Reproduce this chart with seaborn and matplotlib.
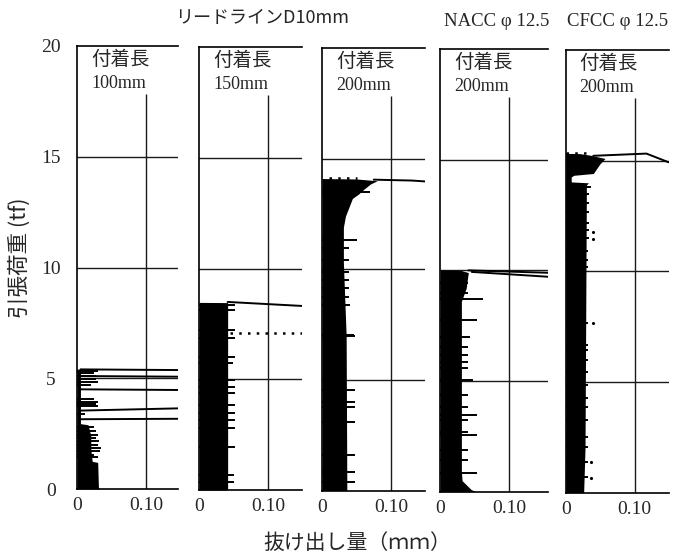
import numpy as np
import pandas as pd
import matplotlib
matplotlib.use("Agg")
import matplotlib.pyplot as plt
import seaborn as sns

sns.set_theme(style="white")
plt.rcParams["font.family"] = ["Noto Sans CJK JP", "DejaVu Sans"]

W, H = 677, 557

# ---------------- data ----------------
y_ticks = [0, 5, 10, 15, 20]
y_tick_labels = ["0", "5", "10", "15", "20"]
x_ticks = [0, 0.10]
x_tick_labels = ["0", "0.10"]
grid_loads = [5, 10, 15]

panel_labels = ["付着長\n100mm", "付着長\n150mm", "付着長\n200mm", "付着長\n200mm", "付着長\n200mm"]
group_titles = ["リードラインD10mm", "NACC φ 12.5", "CFCC φ 12.5"]

# Panel 1 : D10, bond length 100 mm
band1_load = [0, 0.1, 1.2, 1.25, 1.8, 2.4, 2.9, 2.95, 5.4, 5.42]
band1_slip = [0.032, 0.031, 0.030, 0.022, 0.020, 0.020, 0.016, 0.005, 0.005, 0.0]
spike1_load = [5.32, 5.22, 5.10, 4.95, 4.82, 4.70, 4.05, 3.95, 3.85, 3.75, 3.40,
               2.80, 2.60, 2.45, 2.30, 2.15, 2.00, 1.85, 1.70, 1.55, 1.45]
spike1_slip = [0.030, 0.025, 0.027, 0.028, 0.030, 0.020, 0.025, 0.030, 0.028, 0.030, 0.012,
               0.025, 0.027, 0.030, 0.028, 0.032, 0.030, 0.035, 0.033, 0.025, 0.030]
line1_seg = [0, 0, 1, 1, 2, 2, 3, 3, 4, 4]
line1_slip = [0.005, 0.146, 0.005, 0.146, 0.005, 0.146, 0.005, 0.146, 0.005, 0.146]
line1_load = [5.40, 5.37, 5.10, 5.07, 4.50, 4.47, 3.54, 3.64, 3.15, 3.17]

# Panel 2 : D10, bond length 150 mm
band2_load = [0, 8.46, 8.47]
band2_slip = [0.0415, 0.0415, 0.0]
spike2_load = [8.35, 8.13, 7.22, 6.85, 6.02, 5.72, 4.97, 4.66, 4.36, 3.84, 3.46, 3.16, 2.78, 1.96, 0.68, 0.38]
spike2_slip = [0.052, 0.052, 0.052, 0.052, 0.052, 0.049, 0.052, 0.052, 0.052, 0.052, 0.052,
               0.052, 0.052, 0.052, 0.050, 0.050]
line2_seg = [0, 0]
line2_slip = [0.0415, 0.149]
line2_load = [8.49, 8.31]
dot2_slip = [0.045, 0.149]
dot2_load = [7.10, 7.10]

# Panel 3 : D10, bond length 200 mm
band3_load = [0, 7.0, 10.3, 11.9, 12.4, 12.8, 13.2, 13.4, 13.6, 13.85, 14.0, 14.08, 14.1]
band3_slip = [0.036, 0.035, 0.031, 0.031, 0.034, 0.039, 0.044, 0.053, 0.060, 0.070, 0.080, 0.050, 0.0]
spike3_load = [13.49, 11.31, 10.94, 10.41, 9.88, 9.51, 9.14, 8.75, 8.38, 7.02,
               6.98, 4.54, 4.01, 3.79, 3.11, 1.60, 0.85, 0.40]
spike3_slip = [0.070, 0.051, 0.039, 0.039, 0.039, 0.039, 0.039, 0.039, 0.041, 0.046,
               0.048, 0.048, 0.048, 0.048, 0.048, 0.048, 0.048, 0.048]
line3_seg = [0, 0, 0, 0]
line3_slip = [0.075, 0.100, 0.130, 0.149]
line3_load = [14.05, 14.03, 14.01, 13.97]
dot3_slip = [0.010, 0.050]
dot3_load = [14.12, 14.12]

# Panel 4 : NACC, bond length 200 mm
band4_load = [0, 0.1, 0.5, 0.9, 8.6, 9.2, 9.9, 10.0, 10.02]
band4_slip = [0.052, 0.045, 0.032, 0.031, 0.031, 0.038, 0.041, 0.030, 0.0]
spike4_load = [9.41, 8.96, 8.69, 7.75, 7.00, 6.55, 6.17, 5.87, 5.57, 5.04, 4.37,
               3.84, 3.46, 3.24, 2.71, 2.56, 1.88, 1.43, 0.83]
spike4_slip = [0.041, 0.041, 0.063, 0.053, 0.043, 0.041, 0.041, 0.041, 0.041, 0.048, 0.041,
               0.041, 0.053, 0.041, 0.041, 0.053, 0.041, 0.041, 0.053]
line4_seg = [0, 0, 1, 1]
line4_slip = [0.041, 0.157, 0.046, 0.157]
line4_load = [10.00, 9.89, 9.93, 9.71]

# Panel 5 : CFCC, bond length 200 mm
band5_load = [0, 2.0, 7.8, 13.9, 14.0, 14.04, 14.27, 14.34, 14.42, 14.65, 14.87, 15.1, 15.25, 15.32, 15.33]
band5_slip = [0.026, 0.028, 0.029, 0.030, 0.033, 0.008, 0.008, 0.012, 0.040, 0.045, 0.050, 0.057,
              0.035, 0.020, 0.0]
spike5_load = [13.80, 13.50, 13.10, 12.70, 12.20, 11.86, 11.50, 10.90, 10.50, 10.20,
               7.65, 6.67, 6.44, 5.99, 5.46, 4.86, 4.30, 3.88, 3.28, 2.53, 2.08, 1.40, 0.72]
spike5_slip = [0.036, 0.034, 0.034, 0.034, 0.034, 0.034, 0.034, 0.033, 0.033, 0.033,
               0.033, 0.033, 0.033, 0.033, 0.033, 0.033, 0.033, 0.033, 0.032, 0.032, 0.033, 0.033, 0.032]
pt5_slip = [0.040, 0.040, 0.040, 0.036, 0.036]
pt5_load = [11.80, 11.45, 7.65, 1.40, 0.68]
line5_seg = [0, 0, 0]
line5_slip = [0.040, 0.117, 0.149]
line5_load = [15.22, 15.32, 14.93]
dot5_slip = [0.0, 0.030]
dot5_load = [15.36, 15.36]

bands = [(band1_load, band1_slip), (band2_load, band2_slip), (band3_load, band3_slip),
         (band4_load, band4_slip), (band5_load, band5_slip)]
spikes = [(spike1_load, spike1_slip), (spike2_load, spike2_slip), (spike3_load, spike3_slip),
          (spike4_load, spike4_slip), (spike5_load, spike5_slip)]
lines = [(line1_seg, line1_slip, line1_load), (line2_seg, line2_slip, line2_load),
         (line3_seg, line3_slip, line3_load), (line4_seg, line4_slip, line4_load),
         (line5_seg, line5_slip, line5_load)]
dotted = [None, (dot2_slip, dot2_load), (dot3_slip, dot3_load), None, (dot5_slip, dot5_load)]

# ---------------- layout (pixels) ----------------
# left, y of load 0, y of load 20, x max (mm)
geo = [(77, 489, 46, 0.146), (199, 490, 47, 0.149), (322, 490.5, 48, 0.149),
       (440, 491.7, 49, 0.157), (565.7, 492.7, 50, 0.149)]
px_per_mm = 690.0
vgrid_top = 17.85

fig = plt.figure(figsize=(W / 100, H / 100), dpi=100)
fig.patch.set_facecolor("white")

serif = "Liberation Serif"

for i, (left, y0, y20, xmax) in enumerate(geo):
    wpx = xmax * px_per_mm
    ax = fig.add_axes([left / W, 1 - y0 / H, wpx / W, (y0 - y20) / H])
    ax.set_facecolor("white")
    ax.set_xlim(0, xmax)
    ax.set_ylim(0, 20)
    for s in ["left", "top", "bottom"]:
        ax.spines[s].set_visible(True)
        ax.spines[s].set_color("black")
        ax.spines[s].set_linewidth(1.2)
    ax.spines["right"].set_visible(False)

    # grid
    for g in grid_loads:
        ax.axhline(g, color="#1a1a1a", lw=1.0, zorder=1)
    ax.vlines(0.10, 0, vgrid_top, color="#1a1a1a", lw=1.0, zorder=1)

    # dense band
    bl, bs = bands[i]
    ax.fill_betweenx(bl, 0, bs, color="black", lw=0, zorder=2)
    sl, ss = spikes[i]
    ax.hlines(sl, 0, ss, color="black", lw=1.4, zorder=3)

    seg, lx, ly = lines[i]
    df = pd.DataFrame({"seg": seg, "slip": lx, "load": ly})
    sns.lineplot(data=df, x="slip", y="load", units="seg", estimator=None, sort=False,
                 color="black", lw=1.4, ax=ax, zorder=4, legend=False)
    if dotted[i] is not None:
        dx, dy = dotted[i]
        ax.plot(dx, dy, color="black", lw=1.8, ls=(0, (1, 2.5)), zorder=4)
    if i == 4:
        sns.scatterplot(x=pt5_slip, y=pt5_load, color="black", s=5, ax=ax, zorder=4,
                        linewidth=0, legend=False)

    # ticks
    ax.set_xticks(x_ticks)
    ax.set_xticklabels(x_tick_labels, fontfamily=serif, fontsize=14)
    ax.tick_params(axis="x", direction="out", length=3, width=1, color="black", pad=3)
    ax.set_yticks(y_ticks)
    if i == 0:
        ax.set_yticklabels(y_tick_labels, fontfamily=serif, fontsize=14)
        for lbl in ax.get_yticklabels():
            lbl.set_horizontalalignment("center")
        ax.tick_params(axis="y", direction="out", length=3.6, width=1, color="black", pad=15)
    else:
        ax.set_yticklabels([])
        ax.tick_params(axis="y", length=0)
    ax.set_xlabel("")
    ax.set_ylabel("")
    ax.grid(False)

    # panel label
    head, sub = panel_labels[i].split("\n")
    fig.text((left + 14) / W, 1 - (y20 + 3) / H, head, fontsize=14, ha="left", va="top")
    fig.text((left + 14) / W, 1 - (y20 + 29) / H, sub, fontsize=13, ha="left", va="top",
             fontfamily=serif)

# group titles
fig.text(262 / W, 1 - 18 / H, group_titles[0], fontsize=13, ha="center", va="center")
fig.text(497 / W, 1 - 21 / H, group_titles[1], fontsize=13.5, ha="center", va="center",
         fontfamily=[serif, "DejaVu Serif"])
fig.text(618 / W, 1 - 21 / H, group_titles[2], fontsize=13.5, ha="center", va="center",
         fontfamily=[serif, "DejaVu Serif"])

# axis labels
fig.text(20 / W, 1 - 258 / H, "引張荷重 (tf)", fontsize=15.5, rotation=90, ha="center", va="center")
fig.text(357 / W, 1 - 543 / H, "抜け出し量（ｍｍ）", fontsize=15, ha="center", va="center")

fig.savefig("out.png", dpi=100, facecolor="white")
